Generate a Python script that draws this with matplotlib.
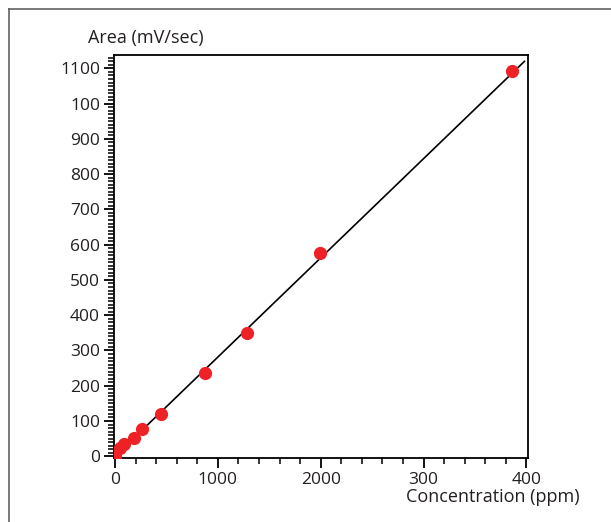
import matplotlib
matplotlib.use("Agg")
import matplotlib.pyplot as plt
from matplotlib.lines import Line2D
from matplotlib.ticker import MultipleLocator

plt.rcParams['font.family'] = ['Open Sans', 'DejaVu Sans']

# calibration points
conc = [0, 49, 87, 184, 262, 447, 874, 1282, 1990, 3864]
area = [2, 23, 34, 51, 76, 121, 237, 350, 576, 1092]

# calibration line
line_x = [0, 3980]
line_y = [0, 1120]

x_ticks = [0, 1000, 2000, 3000, 4000]
x_labels = ['0', '1000', '2000', '300', '400']
y_ticks = [0, 100, 200, 300, 400, 500, 600, 700, 800, 900, 1000, 1100]
y_labels = ['0', '100', '200', '300', '400', '500', '600', '700', '800', '900', '100', '1100']

fig = plt.figure(figsize=(6.11, 5.22), dpi=100)
ax = fig.add_axes([0.1866, 0.1226, 0.6776, 0.772])

ax.plot(line_x, line_y, color='black', linewidth=1.2, zorder=2)
ax.plot(conc, area, 'o', color='#ee2127', markersize=9.5, markeredgewidth=0, zorder=3)

ax.set_xlim(-10, 4015)
ax.set_ylim(-5, 1138)
ax.set_xticks(x_ticks)
ax.set_xticklabels(x_labels)
ax.set_yticks(y_ticks)
ax.set_yticklabels(y_labels)
ax.xaxis.set_minor_locator(MultipleLocator(200))
ax.yaxis.set_minor_locator(MultipleLocator(10))

ax.tick_params(which='major', direction='out', length=7, width=1.3, labelsize=12.5, colors='black', labelcolor='#231f20', pad=3)
ax.tick_params(which='minor', direction='out', length=4, width=1.1)
for s in ax.spines.values():
    s.set_linewidth(1.3)

fig.text(88 / 611, 1 - 38 / 522, 'Area (mV/sec)', fontsize=13, color='#231f20', va='center', ha='left')
fig.text(580 / 611, 1 - 497 / 522, 'Concentration (ppm)', fontsize=13, color='#231f20', va='center', ha='right')

# outer frame (top and left edges)
fig.add_artist(Line2D([9 / 611, 1], [1 - 9 / 522, 1 - 9 / 522], transform=fig.transFigure, color='#555555', linewidth=1.1))
fig.add_artist(Line2D([9 / 611, 9 / 611], [0, 1 - 9 / 522], transform=fig.transFigure, color='#555555', linewidth=1.1))

fig.savefig('out.png', dpi=100)
